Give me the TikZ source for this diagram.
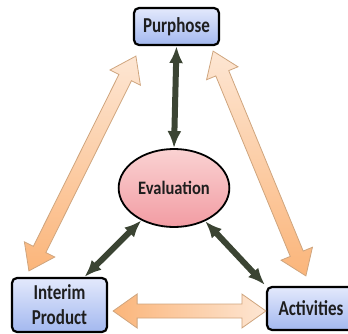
\documentclass[tikz,border=0pt]{standalone}
\usepackage{fontspec}
\usepackage{graphicx}
\setmainfont{Carlito}
\usetikzlibrary{calc,arrows.meta,shapes.geometric}

\definecolor{boxtop}{HTML}{E3E9FC}
\definecolor{boxbot}{HTML}{A3B8EF}
\definecolor{evtop}{HTML}{FAD2D2}
\definecolor{evbot}{HTML}{F29CA3}
\definecolor{peach}{HTML}{FDE6D3}
\definecolor{orng}{HTML}{FBB57A}
\definecolor{tan}{HTML}{CFA57E}
\definecolor{olive}{HTML}{3B4433}
\definecolor{ink}{HTML}{1E1E1E}

\newcommand{\tall}[1]{\scalebox{1}[1.25]{#1}}
\newcommand{\fatarrow}[3]{%
  \coordinate (fa1) at ($(#1)!24pt!(#2)$);
  \coordinate (fa2) at ($(#2)!24pt!(#1)$);
  \draw[#3] (#1) -- ($(fa1)!17pt!90:(#2)$) -- ($(fa1)!7pt!90:(#2)$)
    -- ($(fa2)!7pt!-90:(#1)$) -- ($(fa2)!17pt!-90:(#1)$) -- (#2)
    -- ($(fa2)!17pt!90:(#1)$) -- ($(fa2)!7pt!90:(#1)$)
    -- ($(fa1)!7pt!-90:(#2)$) -- ($(fa1)!17pt!-90:(#2)$) -- cycle;}

\begin{document}
\begin{tikzpicture}[x=1pt,y=1pt,
  stagebox/.style={draw=black,line width=2.2pt,rounded corners=5pt,
    top color=boxtop,bottom color=boxbot,text=ink,align=center,
    font=\bfseries\fontsize{17}{25}\selectfont,inner sep=2pt},
  evalnode/.style={ellipse,draw=black,line width=1.8pt,top color=evtop,
    bottom color=evbot,text=ink,minimum width=110pt,minimum height=78pt,
    font=\bfseries\fontsize{16.5}{18}\selectfont},
  darkarrow/.style={olive,line width=6pt,
    {Latex[length=17pt,width=14pt]}-{Latex[length=17pt,width=14pt]}},
  fat/.style={draw=tan,line width=0.8pt}]
  \useasboundingbox (0,0) rectangle (348,-334);

  \node[stagebox,minimum width=85pt,minimum height=37pt] (pur) at (176.5,-26.5) {\tall{Purphose}};
  \node[stagebox,minimum width=95pt,minimum height=54pt] (int) at (59.5,-305) {\tall{Interim}\\\tall{Product}};
  \node[stagebox,minimum width=88pt,minimum height=43pt] (act) at (311,-308.5) {\tall{Activities}};
  \node[evalnode] (ev) at (174,-188) {\scalebox{1}[1.15]{Evaluation}};

  \coordinate (pl) at ([shift={(3pt,-10pt)}]pur.south west);
  \coordinate (pr) at ([shift={(-7pt,-5pt)}]pur.south east);
  \coordinate (it) at ([shift={(18pt,6pt)}]int.north west);
  \coordinate (ie) at ([shift={(5pt,-6pt)}]int.east);
  \coordinate (at) at ([shift={(40pt,10pt)}]act.north west);
  \coordinate (aw) at ([shift={(0pt,-2.5pt)}]act.west);

  \fatarrow{pl}{it}{fat,top color=peach,bottom color=orng}
  \fatarrow{pr}{at}{fat,top color=peach,bottom color=orng}
  \fatarrow{ie}{aw}{fat,left color=orng,right color=peach}

  \draw[darkarrow] (pur.south) -- (ev.north);
  \draw[darkarrow] (ev) -- ([xshift=25pt]int.north);
  \draw[darkarrow] (ev) -- ([shift={(-1pt,1pt)}]act.north west);
\end{tikzpicture}
\end{document}
